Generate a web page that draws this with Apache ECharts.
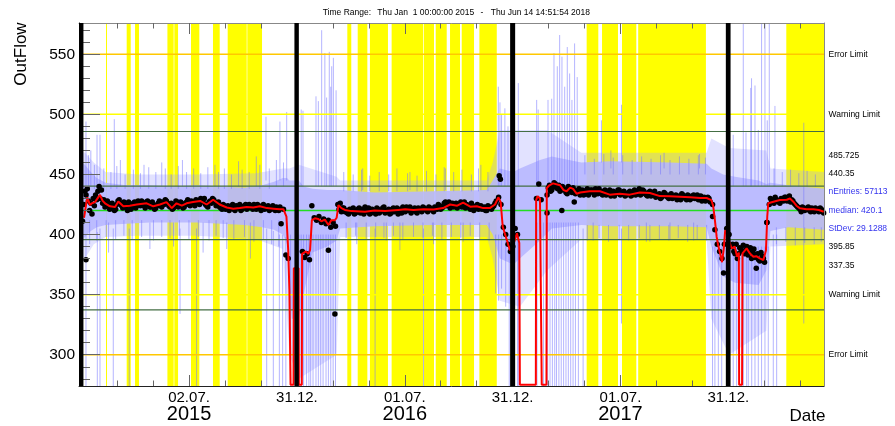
<!DOCTYPE html>
<html><head><meta charset="utf-8">
<script src="https://cdn.jsdelivr.net/npm/echarts@6/dist/echarts.min.js"></script>
<style>html,body{margin:0;padding:0;background:#fff}#c{width:895px;height:426px}</style>
</head><body><div id="c"></div>
<script>
// x values: days since the left edge of the time axis (Jan 1 2015 is at day 3.75)
const X_MIN = 0, X_MAX = 1260.6;
const Y_MIN = 274, Y_MAX = 576;

const xMajorTicks = [186.2, 368.7, 551.2, 733.7, 916.2, 1098.7];
const xTickLabels = ['02.07.', '31.12.', '01.07.', '31.12.', '01.07.', '31.12.'];
const xYearLabels = ['2015', '', '2016', '', '2017', ''];
const xMinorTicks = [3.7, 64.5, 125.4, 247.0, 307.9, 429.5, 490.4, 612.0, 672.9, 794.5, 855.4, 977.0, 1037.9, 1159.5, 1220.4];
const yMajorTicks = [300, 350, 400, 450, 500, 550];
const yMinorTicks = [280, 290, 310, 320, 330, 340, 360, 370, 380, 390, 410, 420, 430, 440, 460, 470, 480, 490, 510, 520, 530, 540, 560, 570];

const errorLimits = [550, 300];
const warningLimits = [500, 350];
const sigmaLines = [485.725, 440.35, 395.85, 337.35];
const medianValue = 420.1;
const nEntries = 57113;
const stDev = 29.1288;

const yellowBands = [[45.7,47.4],[80.7,87.5],[94.8,101.5],[149.6,160.2],[161.3,167.6],[189.5,203.6],[226.7,238.1],[251.6,283.8],[284.8,309.7],
 [454,460.7],[471.6,487.9],[492.3,522.8],[529,582.5],[583.7,600.7],[603.6,622.2],[627.8,644.7],[647.6,668.4],[677.5,706.9],
 [859,878.7],[885,912],[918.8,943],[946.2,1060.8],[1196.8,1260.6]];
const blackBars = [[0,7.5],[364.5,372],[729.5,738],[1094.5,1102.5]];

// blue spread: [day, low, high]
const bandFuzz = [[0,370,470],[10,380,468],[25,392,460],[45,398,452],[100,399,450],[200,399,450],[300,396,451],[345,388,455],[356,300,455],[372,280,458],[436,300,448],[442,398,445],[690,398,445],[700,380,460],[712,345,487],[746,340,487],[792,370,487],[850,396,468],[1062,396,468],[1070,330,480],[1100,300,472],[1163,320,470],[1170,390,455],[1260.6,392,452]];
const bandCore = [[0,392,462],[10,398,458],[20,403,452],[30,406,447],[45,408,443],[80,409,441],[120,410,441],[160,410,440],[200,410,441],[240,409,440],[280,408,439],[310,406,441],[330,404,444],[345,400,447],[352,392,447],[356,360,445],[360,330,445],[372,330,445],[380,350,440],[395,385,438],[420,390,437],[436,395,437],[442,405,437],[500,407,435],[600,408,436],[690,408,437],[700,400,445],[712,380,455],[735,375,452],[746,380,455],[780,395,462],[800,405,465],[850,408,460],[900,407,461],[1000,407,460],[1062,406,459],[1070,390,455],[1090,365,450],[1110,360,448],[1150,358,445],[1163,370,442],[1170,403,443],[1200,406,441],[1260.6,404,438]];
const spikes = [
 [11.8,274,400],[31,274,402],[35.5,274,405],[58,274,405],[85,274,405],[171,334,405],[199,274,405],[317.6,274,405],[328.8,274,403],[339,274,400],[344.6,274,400],[350,274,398],
 [11.8,440,494],[30.5,440,483],[35.5,440,483],[59.7,440,496],[316.4,445,498],[340,445,494],[351.4,445,502],
 [20,440,470],[70,440,462],[110,440,458],[140,440,460],[175,440,462],[230,440,458],[270,440,461],[300,440,465],
 [50,385,410],[120,388,410],[160,390,410],[210,385,410],[250,388,410],[290,380,410],
 [376,440,504],[379,440,503],[401,440,515],[405,440,511],[410.6,440,570],[416,440,551],[419,440,514],[423.5,440,552],[426,440,523],[427.6,440,540],[430.4,440,547],[435,440,520],
 [358,274,400],[372,274,400],[376,274,400],[380,274,400],[385,274,400],[389,274,400],[392,274,400],[396,274,400],[401,274,400],[405,274,400],[409,274,400],[413,274,400],[418,274,400],[422,274,400],[426,274,400],[430,274,400],[434,274,400],
 [501,274,405],[583,274,405],[543,387,410],[470,392,410],[520,395,410],[600,392,410],[650,394,410],[480,437,455],[560,437,452],[620,437,455],[680,437,458],
 [709.5,440,523],[712.3,440,510],[715,440,500],[720.6,440,505],[725.9,440,490],
 [705,351,400],[710,345,400],[715,355,400],[722,340,400],[728,274,400],[742,274,400],[744,274,400],
 [743.3,440,526],[774.4,440,512],[777,440,504],[793.6,440,512],[799.8,440,513],[803.7,440,551],[809.3,440,540],[813.3,440,566],[817.2,440,548],[821.8,440,523],[826.2,440,556],[830.2,440,534],[834.1,440,512],[838.6,440,559],[843,440,531],
 [775,274,410],[786,274,410],[793,274,410],[797,274,410],[801,274,410],[805,274,410],[808,274,410],[812,274,410],[816,274,410],[820,274,410],[824,274,410],[828,274,410],[832,274,410],[836,274,410],[840,274,410],[845,274,410],
 [853,274,405],[918,326,405],[884,460,495],[918,460,508],[870,395,410],[960,394,410],[1000,396,410],[1040,395,410],[900,455,470],[990,455,468],[1050,455,467],
 [1107,440,483],[1124,440,576],[1128.6,440,485],[1136.6,440,522],[1138,440,530],[1143.8,440,524],[1149.4,440,487],[1155,440,576],[1160.7,440,576],[1164.6,440,495],[1168,440,576],[1177.6,440,507],
 [1072,274,390],[1076,274,390],[1081.8,274,390],[1087.5,274,390],[1107,274,390],[1112.8,274,390],[1124,274,390],[1129.7,274,390],[1132.5,274,390],[1138.3,274,390],[1143.8,274,390],[1149.4,274,390],[1155,274,390],[1160.7,274,390],[1166.3,274,390],[1174.8,274,400],[1180.5,274,400],
 [1226.4,326,493]
];
// shorter spikes on the edges of the spread band
const edgeSpikes = [
 [16,438,466],[26,438,458],[42,438,455],[54,438,452],[64,438,457],[78,438,450],[92,438,454],[104,438,451],[118,438,456],[130,438,452],[146,438,455],[156,438,450],[168,438,457],[182,438,452],[194,438,455],[206,438,451],[218,438,456],[236,438,452],[246,438,455],[258,438,450],[276,438,454],[288,438,452],[306,438,458],[322,438,455],[334,440,462],[346,440,460],
 [18,392,412],[30,395,412],[46,398,412],[62,396,412],[76,399,412],[90,396,412],[106,398,412],[126,395,412],[140,398,412],[154,397,412],[170,399,412],[186,396,412],[202,398,412],[220,395,412],[232,399,412],[244,397,412],[262,396,412],[280,398,412],[296,394,412],[312,396,412],[326,392,412],[338,390,412],
 [448,436,452],[464,436,450],[478,436,454],[492,436,449],[508,436,452],[524,436,450],[538,436,455],[556,436,451],[572,436,449],[588,436,453],[604,436,450],[618,436,456],[634,436,452],[648,436,454],[664,436,450],[676,436,455],[692,436,452],
 [452,397,410],[468,399,410],[486,396,410],[502,398,410],[516,397,410],[532,399,410],[548,396,410],[566,398,410],[582,397,410],[598,399,410],[614,396,410],[630,398,410],[646,397,410],[662,399,410],[678,396,410],[694,395,410],
 [856,450,466],[872,450,463],[888,450,467],[904,450,464],[920,450,466],[936,450,462],[952,450,465],[968,450,463],[984,450,466],[1000,450,462],[1016,450,465],[1032,450,463],[1048,450,466],[1060,450,464],
 [860,395,408],[880,397,408],[896,394,408],[914,396,408],[930,395,408],[948,397,408],[966,394,408],[982,396,408],[998,395,408],[1014,397,408],[1030,394,408],[1046,396,408],[1062,395,408],
 [1176,440,455],[1190,440,452],[1204,440,454],[1218,440,451],[1232,440,453],[1246,440,450],
 [1180,392,406],[1196,394,406],[1212,391,406],[1228,393,406],[1244,392,406],[1256,394,406]
];

// daily means (black points)
const dots2015 = [[6,411],[10,436],[14,438],[18,420],[22,417],[26,424],[30,429],[34,440],[38,437],[42,429],[46,424],[50,426],[54,422],[58,424],[62,421],[66,428],[70,426],[74,422],[78,425],[82,420],[86,425],[90,423],[94,427],[98,424],[102,426],[106,428],[110,424],[114,427],[118,425],[122,423],[126,425],[130,422],[134,426],[138,424],[142,427],[146,429],[150,426],[154,423],[158,421],[162,425],[166,427],[170,424],[174,426],[178,423],[182,427],[186,425],[190,428],[194,426],[198,429],[202,427],[206,430],[210,427],[214,425],[218,423],[222,428],[226,430],[230,427],[234,425],[238,423],[242,421],[246,424],[250,422],[254,420],[258,423],[262,421],[266,424],[270,422],[274,420],[278,423],[282,425],[286,422],[290,424],[294,421],[298,423],[302,425],[306,422],[310,424],[314,421],[318,423],[322,420],[326,422],[330,421],[334,423],[338,420],[342,409],[346,421],[350,383],[354,380]];
const dots2015b = [[8,425],[12,433],[16,428],[20,426],[24,430],[28,433],[32,436],[36,430],[40,426],[44,423],[48,428],[52,421],[56,426],[60,420],[64,425],[68,429],[72,424],[76,427],[80,423],[84,427],[88,421],[92,426],[96,422],[100,428],[104,424],[108,426],[112,422],[116,428],[120,423],[124,427],[128,421],[132,424],[136,428],[140,423],[144,425],[148,428],[152,424],[156,426],[160,422],[164,428],[168,423],[172,427],[176,422],[180,425],[184,429],[188,424],[192,427],[196,424],[200,428],[204,425],[208,428],[212,430],[216,424],[220,427],[224,426],[228,429],[232,424],[236,427],[240,422],[244,425],[248,421],[252,424],[256,422],[260,425],[264,420],[268,423],[272,425],[276,421],[280,424],[284,421],[288,425],[292,423],[296,425],[300,421],[304,423],[308,420],[312,425],[316,422],[320,424],[324,421],[328,424],[332,420],[336,422],[340,423]];
const dots2016 = [[378,386],[382,381],[386,384],[390,379],[394,424],[398,414],[402,412],[406,415],[410,410],[414,413],[418,409],[422,412],[426,406],[430,410],[434,407],[438,425],[442,426],[446,422],[450,419],[454,418],[458,421],[462,419],[466,417],[470,420],[474,422],[478,419],[482,417],[486,420],[490,422],[494,418],[498,420],[502,417],[506,421],[510,419],[514,422],[518,418],[522,420],[526,417],[530,421],[534,419],[538,422],[542,420],[546,418],[550,421],[554,423],[558,420],[562,418],[566,421],[570,419],[574,422],[578,420],[582,423],[586,421],[590,419],[594,422],[598,420],[602,423],[606,421],[610,424],[614,422],[618,426],[622,424],[626,427],[630,425],[634,423],[638,426],[642,424],[646,427],[650,425],[654,422],[658,424],[662,421],[666,424],[670,422],[674,425],[678,423],[682,421],[686,423],[690,420],[694,423],[698,421],[702,424],[706,428],[710,431],[714,425],[718,406],[722,400],[726,392],[730,386],[734,390],[738,405],[742,400]];
const dots2016b = [[440,421],[444,419],[448,422],[452,420],[456,417],[460,420],[464,422],[468,418],[472,421],[476,418],[480,421],[484,423],[488,419],[492,417],[496,421],[500,419],[504,422],[508,418],[512,420],[516,423],[520,419],[524,421],[528,418],[532,422],[536,420],[540,417],[544,421],[548,423],[552,419],[556,421],[560,423],[564,420],[568,422],[572,418],[576,421],[580,419],[584,422],[588,420],[592,423],[596,421],[600,419],[604,422],[608,425],[612,421],[616,423],[620,427],[624,425],[628,422],[632,426],[636,424],[640,422],[644,425],[648,423],[652,427],[656,425],[660,423],[664,426],[668,420],[672,423],[676,421],[680,424],[684,422],[688,420],[692,424],[696,422],[700,423],[704,426]];
const dots2017 = [[774,430],[778,442],[782,429],[792,433],[796,441],[800,437],[804,443],[808,439],[812,441],[816,437],[820,438],[824,435],[828,440],[832,437],[836,439],[840,434],[844,436],[848,433],[852,437],[856,434],[860,438],[864,435],[868,437],[872,433],[876,436],[880,438],[884,434],[888,436],[892,433],[896,435],[900,432],[904,436],[908,434],[912,437],[916,433],[920,435],[924,432],[928,434],[932,436],[936,433],[940,437],[944,435],[948,438],[952,434],[956,436],[960,433],[964,435],[968,432],[972,434],[976,431],[980,433],[984,430],[988,432],[992,434],[996,431],[1000,433],[1004,430],[1008,432],[1012,429],[1016,432],[1020,434],[1024,431],[1028,429],[1032,432],[1036,430],[1040,433],[1044,431],[1048,429],[1052,432],[1056,430],[1060,428],[1064,431],[1068,427],[1072,415],[1076,404],[1080,392],[1084,386],[1088,380],[1092,392],[1096,405],[1100,400]];
const dots2017b = [[794,439],[798,436],[802,440],[806,442],[810,438],[814,436],[818,440],[822,437],[826,434],[830,438],[834,435],[838,437],[842,436],[846,438],[850,435],[854,433],[858,436],[862,433],[866,437],[870,435],[874,438],[878,434],[882,436],[886,433],[890,437],[894,434],[898,437],[902,435],[906,432],[910,435],[914,437],[918,434],[922,436],[926,433],[930,435],[934,432],[938,435],[942,433],[946,436],[950,433],[954,437],[958,434],[962,432],[966,436],[970,433],[974,436],[978,432],[982,434],[986,431],[990,435],[994,432],[998,430],[1002,434],[1006,431],[1010,433],[1014,431],[1018,429],[1022,433],[1026,430],[1030,433],[1034,429],[1038,432],[1042,430],[1046,433],[1050,430],[1054,428],[1058,431],[1062,429],[1066,430]];
const dots2018 = [[1104,390],[1108,386],[1112,392],[1116,384],[1120,388],[1124,391],[1128,387],[1132,383],[1136,389],[1140,385],[1144,381],[1148,384],[1152,378],[1156,382],[1160,377],[1164,410],[1168,425],[1172,428],[1176,426],[1180,429],[1184,427],[1188,430],[1192,428],[1196,431],[1200,429],[1204,427],[1208,428],[1212,425],[1216,423],[1220,421],[1224,423],[1228,420],[1232,422],[1236,420],[1240,422],[1244,419],[1248,421],[1252,419],[1256,421],[1260,418]];
const dots2018b = [[1106,392],[1110,384],[1114,380],[1118,389],[1122,386],[1126,384],[1130,390],[1134,386],[1138,380],[1142,388],[1146,383],[1150,379],[1154,385],[1158,380],[1170,430],[1174,427],[1178,431],[1182,428],[1186,426],[1190,429],[1194,431],[1198,428],[1202,432],[1206,429],[1210,426],[1214,424],[1218,422],[1222,419],[1226,422],[1230,421],[1234,423],[1238,419],[1242,421],[1246,422],[1250,420],[1254,422],[1258,420]];
const dotOutliers = [[11.8,379],[422,387],[433,334],[711,449],[713,446],[792,418],[817,420],[838,427],[1072,425],[1090.6,368],[1146,372],[1164,410]];

// smoothed trend (red); 275 = line resting on the bottom of the frame
const trend = [[8.5,414],[10,415],[14,431],[18.6,424.5],[22,426],[27,427],[35.5,433],[40,428],[44,426],[52.5,423.5],[61,423],[66.5,427.5],[75,423.5],[86,424],[97.6,425],[114.5,426],[125.7,423.5],[137,425],[148,427],[157,422],[165,426],[174,424],[182,426],[193,427],[205,428],[216,425],[227,429],[238,425],[250,422.5],[261,421.5],[272,422],[284,423],[295,422.5],[306,423.5],[318,422],[329,421.5],[340,421],[346,421],[351,415],[354,387],[356,354],[358,275],[363,275],[363.5,372],[371.5,372],[372,275],[377,275],[377.5,384],[380,383],[384,386],[388,384],[391,387],[394,412],[399,413.5],[405,413],[410,411],[416,412.5],[422,408],[427,412],[433,412],[436,414],[439,424.5],[444,422],[450,420.5],[461,419.5],[484,419],[500,420],[518,419.5],[540,420.5],[552,421],[566,420.4],[583,421],[600,420.8],[616,422],[628,425],[640,424],[650,426.5],[662,423.2],[673,423.5],[684,422],[695,422],[704,425],[709.5,431],[713.5,427],[717,406.5],[724,395.5],[729,387],[735,392],[741,401],[745,393],[746,275],[773,275],[773.5,428.7],[776,432],[780,430],[782.5,429],[783,275],[791,275],[791.5,438.7],[796,441],[802,442.6],[814,441],[820,437],[825,436],[831,439],[836,438],[842,434],[848,435],[864,436],[881.6,436],[898,433.2],[915,434],[932,433.2],[949,435],[966,434.6],[983,432],[1000,431.8],[1017,431.5],[1034,431],[1051,430.4],[1062,430.4],[1070,428.7],[1073,424],[1076,412],[1079,398],[1082,390],[1085,384],[1088,377],[1091,388],[1093.4,403.5],[1096.3,401],[1100,395],[1104,388.5],[1109.6,389.9],[1113.6,381.6],[1116.5,385],[1117,275],[1122,275],[1122.7,384.4],[1129.7,388.5],[1135,384.4],[1141,381.6],[1146,382],[1152,380.2],[1158,378.8],[1162.4,387],[1164.6,415],[1166.3,426],[1175,427.3],[1186,428.7],[1197.5,429],[1203,430],[1208.7,427.3],[1214,424],[1220,421.8],[1231,421],[1242.5,421],[1252,420.4],[1260,419]];

const FONT = '"Liberation Sans", Arial, Helvetica, sans-serif';
const chart = echarts.init(document.getElementById('c'));

function xLabel(v) {
  for (let i = 0; i < xMajorTicks.length; i++) {
    if (Math.abs(v - xMajorTicks[i]) < 0.01) {
      return xYearLabels[i] ? '{t|' + xTickLabels[i] + '}\n{y|' + xYearLabels[i] + '}' : '{t|' + xTickLabels[i] + '}';
    }
  }
  return '';
}

function rectSeries(data, fill, z) {
  return { type: 'custom', z: z, silent: true, clip: true, data: data, encode: { x: [0, 1] },
    renderItem: function (p, api) {
      const a = api.coord([api.value(0), Y_MAX]);
      const b = api.coord([api.value(1), Y_MIN]);
      return { type: 'rect', shape: { x: a[0], y: a[1], width: Math.max(b[0] - a[0], 1), height: b[1] - a[1] }, style: { fill: fill } };
    } };
}
function bandSeries(arr, fill, z) {
  return { type: 'custom', z: z, silent: true, clip: true, data: arr, encode: { x: 0, y: [1, 2] },
    renderItem: function (p, api) {
      if (p.dataIndex !== 0) return null;
      const pts = [];
      for (let i = 0; i < arr.length; i++) pts.push(api.coord([arr[i][0], arr[i][2]]));
      for (let i = arr.length - 1; i >= 0; i--) pts.push(api.coord([arr[i][0], arr[i][1]]));
      return { type: 'polygon', shape: { points: pts }, style: { fill: fill } };
    } };
}
function spikeSeries(arr, stroke, z) {
  return { type: 'custom', z: z, silent: true, clip: true, data: arr, encode: { x: 0, y: [1, 2] },
    renderItem: function (p, api) {
      const a = api.coord([api.value(0), api.value(1)]);
      const b = api.coord([api.value(0), api.value(2)]);
      return { type: 'line', shape: { x1: a[0], y1: a[1], x2: b[0], y2: b[1] }, style: { stroke: stroke, lineWidth: 1 } };
    } };
}
function hLineSeries(values, color, width, labels, z) {
  return { type: 'custom', z: z, silent: true, clip: false, data: values.map(v => [v]), encode: { y: 0 },
    renderItem: function (p, api) {
      const v = api.value(0);
      const a = api.coord([X_MIN, v]);
      const b = api.coord([X_MAX, v]);
      const children = [{ type: 'line', shape: { x1: a[0], y1: a[1], x2: b[0], y2: b[1] }, style: { stroke: color, lineWidth: width } }];
      if (labels) children.push({ type: 'text', x: b[0] + 4.5, y: b[1], style: { text: labels, fill: '#000', font: '8.5px ' + FONT, verticalAlign: 'middle' } });
      return { type: 'group', children: children };
    } };
}
const statTexts = [String(sigmaLines[0]), String(sigmaLines[1]), 'nEntries: ' + nEntries, 'median: ' + medianValue, 'StDev: ' + stDev, String(sigmaLines[2]), String(sigmaLines[3])];
const statColors = ['#000', '#000', '#3333ee', '#3333ee', '#3333ee', '#000', '#000'];

const dotData = dots2015.concat(dots2015b, dots2016, dots2016b, dots2017, dots2017b, dots2018, dots2018b, dotOutliers);

const option = {
  animation: false,
  backgroundColor: '#fff',
  grid: { left: 79, right: 71, top: 23, bottom: 40, show: false },
  xAxis: [
    { type: 'value', min: X_MIN, max: X_MAX, position: 'bottom', z: 12,
      axisLine: { show: true, onZero: false, lineStyle: { color: '#222', width: 1 } },
      axisTick: { show: true, inside: true, length: 11, customValues: xMajorTicks, lineStyle: { color: '#666' } },
      axisLabel: { show: true, customValues: xMajorTicks, formatter: xLabel, margin: 4, color: '#000',
        rich: { t: { fontSize: 15, lineHeight: 15, fontFamily: FONT, color: '#000' }, y: { fontSize: 20, lineHeight: 19, fontFamily: FONT, color: '#000' } } },
      splitLine: { show: false } },
    { type: 'value', min: X_MIN, max: X_MAX, position: 'bottom', offset: 0, z: 12,
      axisLine: { show: false, onZero: false },
      axisTick: { show: true, inside: true, length: 5.5, customValues: xMinorTicks, lineStyle: { color: '#666' } },
      axisLabel: { show: false }, splitLine: { show: false } },
    { type: 'value', min: X_MIN, max: X_MAX, position: 'top', offset: 0, z: 12,
      axisLine: { show: true, onZero: false, lineStyle: { color: '#888' } },
      axisTick: { show: true, inside: true, length: 11, customValues: xMajorTicks, lineStyle: { color: '#666' } },
      axisLabel: { show: false }, splitLine: { show: false } },
    { type: 'value', min: X_MIN, max: X_MAX, position: 'top', offset: 0, z: 12,
      axisLine: { show: false, onZero: false },
      axisTick: { show: true, inside: true, length: 5.5, customValues: xMinorTicks, lineStyle: { color: '#666' } },
      axisLabel: { show: false }, splitLine: { show: false } }
  ],
  yAxis: [
    { type: 'value', min: Y_MIN, max: Y_MAX, position: 'left', z: 12,
      axisLine: { show: true, onZero: false, lineStyle: { color: '#000' } },
      axisTick: { show: true, inside: true, length: 21, customValues: yMajorTicks, lineStyle: { color: '#666' } },
      axisLabel: { show: true, customValues: yMajorTicks, margin: 4, fontSize: 15.5, fontFamily: FONT, color: '#000' },
      splitLine: { show: false } },
    { type: 'value', min: Y_MIN, max: Y_MAX, position: 'left', offset: 0, z: 12,
      axisLine: { show: false, onZero: false },
      axisTick: { show: true, inside: true, length: 11, customValues: yMinorTicks, lineStyle: { color: '#666' } },
      axisLabel: { show: false }, splitLine: { show: false } },
    { type: 'value', min: Y_MIN, max: Y_MAX, position: 'right', offset: 0, z: 12,
      axisLine: { show: true, onZero: false, lineStyle: { color: '#888' } },
      axisTick: { show: false }, axisLabel: { show: false }, splitLine: { show: false } }
  ],
  series: [
    rectSeries(yellowBands, '#ffff00', 1),
    bandSeries(bandFuzz, 'rgba(165,165,255,0.32)', 2),
    bandSeries(bandCore, 'rgba(182,182,255,0.88)', 3),
    spikeSeries(spikes, 'rgba(120,120,255,0.55)', 4),
    spikeSeries(edgeSpikes, 'rgba(120,120,255,0.55)', 4),
    hLineSeries(errorLimits, '#ffc800', 1.5, 'Error Limit', 5),
    hLineSeries(warningLimits, '#ffff00', 1.5, 'Warning Limit', 5),
    hLineSeries(sigmaLines, '#446e44', 1.2, null, 5),
    { type: 'custom', z: 5, silent: true, clip: false, data: [[medianValue]], encode: { y: 0 },
      renderItem: function (p, api) {
        const v = api.value(0);
        const a = api.coord([X_MIN, v]);
        const b = api.coord([X_MAX, v]);
        const children = [{ type: 'line', shape: { x1: a[0], y1: a[1], x2: b[0], y2: b[1] }, style: { stroke: '#22dd22', lineWidth: 1.5 } }];
        for (let k = 0; k < statTexts.length; k++) {
          children.push({ type: 'text', x: b[0] + 4.5, y: b[1] + (k - 3) * 18.3,
            style: { text: statTexts[k], fill: statColors[k], font: '8.5px ' + FONT, verticalAlign: 'middle' } });
        }
        return { type: 'group', children: children };
      } },
    { type: 'scatter', z: 6, silent: true, data: dotData, symbol: 'circle', symbolSize: 5.5, itemStyle: { color: '#000', opacity: 1 } },
    { type: 'line', z: 7, silent: true, data: trend, showSymbol: false, symbol: 'none', clip: true,
      lineStyle: { color: '#ff0000', width: 2 } },
    rectSeries(blackBars, '#000', 15)
  ],
  graphic: [
    { type: 'text', x: 322.7, y: 13, style: { text: 'Time Range:', font: '8.5px ' + FONT, fill: '#000', verticalAlign: 'middle' } },
    { type: 'text', x: 377.3, y: 13, style: { text: 'Thu Jan  1 00:00:00 2015', font: '8.5px ' + FONT, fill: '#000', verticalAlign: 'middle' } },
    { type: 'text', x: 480.5, y: 13, style: { text: '-', font: '8.5px ' + FONT, fill: '#000', verticalAlign: 'middle' } },
    { type: 'text', x: 490.7, y: 13, style: { text: 'Thu Jun 14 14:51:54 2018', font: '8.5px ' + FONT, fill: '#000', verticalAlign: 'middle' } },
    { type: 'text', x: 21.5, y: 54, rotation: Math.PI / 2, style: { text: 'OutFlow', font: '17px ' + FONT, fill: '#000', align: 'center', verticalAlign: 'middle' } },
    { type: 'text', x: 825.5, y: 416, style: { text: 'Date', font: '17px ' + FONT, fill: '#000', align: 'right', verticalAlign: 'middle' } }
  ]
};
chart.setOption(option);
</script>
</body></html>
